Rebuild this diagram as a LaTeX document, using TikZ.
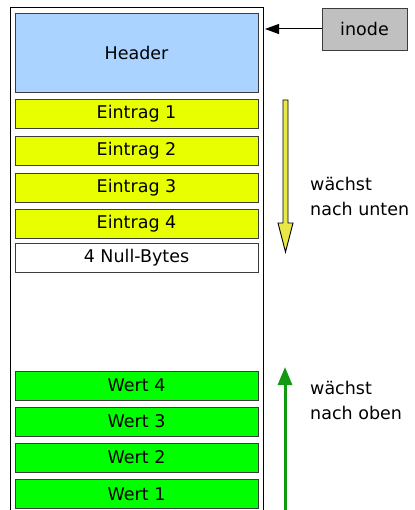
\documentclass[tikz,border=0pt]{standalone}
\usepackage{fontspec}
\setmainfont{DejaVu Sans}
\usetikzlibrary{arrows.meta}
\definecolor{hdrblue}{RGB}{170,212,255}
\definecolor{entyellow}{RGB}{232,255,0}
\definecolor{wertgreen}{RGB}{0,255,0}
\definecolor{inodegrey}{RGB}{192,192,192}
\definecolor{arrowyellow}{RGB}{232,232,70}
\definecolor{arrowgreen}{RGB}{17,153,17}
\definecolor{boxline}{RGB}{60,60,60}
\tikzset{
  cell/.style={draw=boxline, line width=0.9pt, minimum width=243pt, inner sep=0pt, font=\fontsize{17.5}{20}\selectfont},
  entry/.style={cell, fill=entyellow, minimum height=29pt},
  wert/.style={cell, fill=wertgreen, minimum height=29pt},
  note/.style={align=left, anchor=west, inner sep=0pt, font=\fontsize{17.5}{25}\selectfont},
}
\begin{document}
\begin{tikzpicture}[x=1pt,y=-1pt]
\useasboundingbox[fill=white] (0,0) rectangle (414,510);
\draw[line width=1pt] (10,8) -- (263,8) -- (263,530) (10,8) -- (10,530);
\coordinate (memright) at (263,29);
\node[cell, fill=hdrblue, minimum height=79pt] (header) at (136.5,52.5) {Header};
\node[entry] (e1) at (136.5,113.5) {Eintrag 1};
\node[entry] (e2) at (136.5,150.5) {Eintrag 2};
\node[entry] (e3) at (136.5,187.5) {Eintrag 3};
\node[entry] (e4) at (136.5,224) {Eintrag 4};
\node[cell, fill=white, minimum height=29pt] (null) at (136.5,258) {4 Null-Bytes};
\node[wert] (w4) at (136.5,385.5) {Wert 4};
\node[wert] (w3) at (136.5,421.5) {Wert 3};
\node[wert] (w2) at (136.5,457.5) {Wert 2};
\node[wert] (w1) at (136.5,494) {Wert 1};
\node[draw=boxline, line width=0.9pt, fill=inodegrey, minimum width=85pt, minimum height=42pt, inner sep=0pt, font=\fontsize{17.5}{20}\selectfont] (inode) at (364.5,29) {inode};
\draw[line width=1pt, -{Triangle[width=10pt,length=14pt]}] (inode.west) -- ([xshift=2pt]memright);
% yellow fat arrow
\draw[fill=arrowyellow, line width=0.9pt] (283,100) -- (288,100) -- (288,223) -- (293,223) -- (285.5,252) -- (278,223) -- (283,223) -- cycle;
\node[note] (down) at (310,196) {wächst\\nach unten};
% green arrow
\coordinate (gstart) at (285,515);
\draw[arrowgreen, line width=3pt, -{Triangle[width=14pt,length=18pt]}] (gstart) -- (285,367);
\node[note] (up) at (310,400) {wächst\\nach oben};
\end{tikzpicture}
\end{document}
